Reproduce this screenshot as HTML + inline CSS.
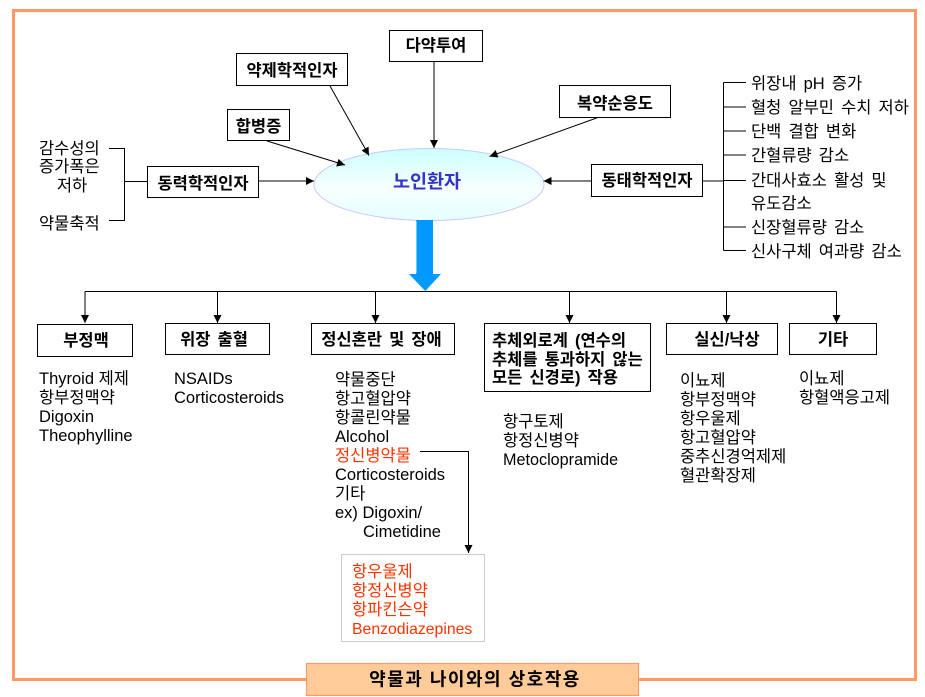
<!DOCTYPE html>
<html><head><meta charset="utf-8">
<style>
html,body{margin:0;padding:0;background:#fff;}
svg{display:block;}
text{font-family:"Liberation Sans","Noto Sans CJK KR",sans-serif;font-size:16.5px;fill:#000;word-spacing:2.5px;}
.b{font-weight:bold;}
.r{fill:#FF3300;}
.l{word-spacing:0;}
</style></head>
<body>
<svg width="925" height="697" viewBox="0 0 925 697" xmlns="http://www.w3.org/2000/svg">
<defs>
<marker id="a" viewBox="0 0 10 10" refX="10" refY="5" markerWidth="9" markerHeight="8" markerUnits="userSpaceOnUse" orient="auto"><path d="M0,0L10,5L0,10z" fill="#000"/></marker>
<linearGradient id="g" x1="0" y1="0" x2="0" y2="1">
<stop offset="0" stop-color="#CCFFFF"/><stop offset="0.55" stop-color="#F7FFFF"/><stop offset="1" stop-color="#E6FFFF"/>
</linearGradient>
</defs>

<!-- outer frame -->
<rect x="13.5" y="10.5" width="902" height="669" fill="none" stroke="#FF9966" stroke-width="3"/>

<!-- top boxes -->
<g fill="#fff" stroke="#000" stroke-width="1">
<rect x="389.5" y="30.5" width="93" height="31"/>
<rect x="236.5" y="53.5" width="111" height="32"/>
<rect x="227.5" y="109.5" width="62" height="31"/>
<rect x="147.5" y="166.5" width="111" height="31"/>
<rect x="559.5" y="85.5" width="111" height="32"/>
<rect x="591.5" y="164.5" width="111" height="32"/>
</g>
<text class="b" x="436" y="51" text-anchor="middle">다약투여</text>
<text class="b" x="292" y="76" text-anchor="middle">약제학적인자</text>
<text class="b" x="258.5" y="132" text-anchor="middle">합병증</text>
<text class="b" x="203" y="189" text-anchor="middle">동력학적인자</text>
<text class="b" x="615" y="109" text-anchor="middle">복약순응도</text>
<text class="b" x="647" y="186" text-anchor="middle">동태학적인자</text>

<!-- ellipse -->
<ellipse cx="429" cy="184.5" rx="115" ry="36" fill="url(#g)" stroke="#C8C8FF" stroke-width="1"/>
<text class="b" x="427" y="188" text-anchor="middle" style="font-size:18.5px;fill:#3333CC;">노인환자</text>

<!-- arrows into ellipse -->
<g stroke="#000" stroke-width="1" fill="none" marker-end="url(#a)">
<line x1="434" y1="62" x2="434" y2="148"/>
<line x1="330" y1="86" x2="369" y2="155.5"/>
<line x1="267" y1="141" x2="345" y2="165"/>
<line x1="258" y1="181" x2="314" y2="181"/>
<line x1="598" y1="117.5" x2="489.5" y2="156.5"/>
<line x1="591" y1="181" x2="543.5" y2="181"/>
</g>

<!-- left bracket -->
<g stroke="#000" stroke-width="1" fill="none">
<polyline points="109,148.5 124.5,148.5 124.5,220.5 109,220.5"/>
<line x1="124.5" y1="181.5" x2="147" y2="181.5"/>
</g>
<text x="39" y="154">감수성의</text>
<text x="39" y="172">증가폭은</text>
<text x="72" y="191" text-anchor="middle">저하</text>
<text x="39" y="229">약물축적</text>

<!-- right bracket -->
<g stroke="#000" stroke-width="1" fill="none">
<line x1="723.5" y1="82.5" x2="723.5" y2="250.5"/>
<line x1="703" y1="181" x2="723.5" y2="181"/>
<line x1="723.5" y1="82.5" x2="746" y2="82.5"/>
<line x1="723.5" y1="107" x2="746" y2="107"/>
<line x1="723.5" y1="131" x2="746" y2="131"/>
<line x1="723.5" y1="155" x2="746" y2="155"/>
<line x1="723.5" y1="180.5" x2="746" y2="180.5"/>
<line x1="723.5" y1="227" x2="746" y2="227"/>
<line x1="723.5" y1="250.5" x2="746" y2="250.5"/>
</g>
<text x="751" y="89">위장내  pH 증가</text>
<text x="751" y="113">혈청 알부민 수치 저하</text>
<text x="751" y="137">단백 결합 변화</text>
<text x="751" y="161">간혈류량 감소</text>
<text x="751" y="186">간대사효소 활성 및</text>
<text x="751" y="209">유도감소</text>
<text x="751" y="233">신장혈류량 감소</text>
<text x="751" y="257">신사구체 여과량 감소</text>

<!-- big blue arrow -->
<polygon points="416,220 433,220 433,274 441,274 425.3,291 409,274 416,274" fill="#0099FF"/>
<line x1="416.5" y1="221" x2="416.5" y2="273" stroke="#66CCFF" stroke-width="1"/>

<!-- distribution lines -->
<g stroke="#000" stroke-width="1" fill="none">
<line x1="85" y1="291.5" x2="836.5" y2="291.5"/>
</g>
<g stroke="#000" stroke-width="1" fill="none" marker-end="url(#a)">
<line x1="85" y1="291.5" x2="85" y2="323"/>
<line x1="217.5" y1="291.5" x2="217.5" y2="323"/>
<line x1="375.5" y1="291.5" x2="375.5" y2="323"/>
<line x1="569.5" y1="291.5" x2="569.5" y2="323"/>
<line x1="726.5" y1="291.5" x2="726.5" y2="323"/>
<line x1="836.5" y1="291.5" x2="836.5" y2="323"/>
</g>

<!-- bottom boxes -->
<g fill="#fff" stroke="#000" stroke-width="1">
<rect x="37.5" y="324.5" width="95" height="32"/>
<rect x="165.5" y="323.5" width="104" height="31"/>
<rect x="311.5" y="323.5" width="143" height="31"/>
<rect x="484.5" y="323.5" width="166" height="68"/>
<rect x="666.5" y="323.5" width="111" height="31"/>
<rect x="789.5" y="323.5" width="87" height="31"/>
</g>
<text class="b" x="86" y="346" text-anchor="middle">부정맥</text>
<text class="b" x="214" y="345" text-anchor="middle">위장 출혈</text>
<text class="b" x="381.5" y="345" text-anchor="middle">정신혼란 및 장애</text>
<text class="b" x="492" y="346">추체외로계 (연수의</text>
<text class="b" x="492" y="365">추체를 통과하지 않는</text>
<text class="b" x="492" y="383">모든 신경로) 작용</text>
<text class="b" x="727" y="345" text-anchor="middle">실신/낙상</text>
<text class="b" x="833" y="345" text-anchor="middle">기타</text>

<!-- lists -->
<text class="l" x="39" y="384">Thyroid 제제</text>
<text x="39" y="403">항부정맥약</text>
<text x="39" y="422">Digoxin</text>
<text x="39" y="441">Theophylline</text>

<text x="174" y="384">NSAIDs</text>
<text x="174" y="403">Corticosteroids</text>

<text x="335" y="385">약물중단</text>
<text x="335" y="404">항고혈압약</text>
<text x="335" y="423">항콜린약물</text>
<text x="335" y="442">Alcohol</text>
<text class="r" x="335" y="461">정신병약물</text>
<text x="335" y="480">Corticosteroids</text>
<text x="335" y="499">기타</text>
<text class="l" x="335" y="518">ex) Digoxin/</text>
<text x="363" y="537">Cimetidine</text>

<text x="503" y="427">항구토제</text>
<text x="503" y="446">항정신병약</text>
<text x="503" y="465" style="font-size:16.2px">Metoclopramide</text>

<text x="680" y="386">이뇨제</text>
<text x="680" y="405">항부정맥약</text>
<text x="680" y="424">항우울제</text>
<text x="680" y="443">항고혈압약</text>
<text x="680" y="462">중추신경억제제</text>
<text x="680" y="481">혈관확장제</text>

<text x="799" y="384">이뇨제</text>
<text x="799" y="403">항혈액응고제</text>

<!-- red connector -->
<polyline points="420,451.5 468.5,451.5 468.5,553" fill="none" stroke="#000" stroke-width="1" marker-end="url(#a)"/>
<rect x="341.5" y="554.5" width="143" height="87" fill="none" stroke="#999" stroke-width="1" stroke-dasharray="1,1"/>
<text class="r" x="352" y="577">항우울제</text>
<text class="r" x="352" y="596">항정신병약</text>
<text class="r" x="352" y="615">항파킨슨약</text>
<text class="r" x="352" y="634" style="font-size:15.8px">Benzodiazepines</text>

<!-- title box -->
<rect x="306.5" y="663.5" width="332" height="32" fill="#FFCC99" stroke="#FF9966" stroke-width="1.2"/>
<text class="b" x="475" y="685.5" text-anchor="middle" style="font-size:18px;letter-spacing:1.5px;word-spacing:0;">약물과 나이와의 상호작용</text>
</svg>
</body></html>
